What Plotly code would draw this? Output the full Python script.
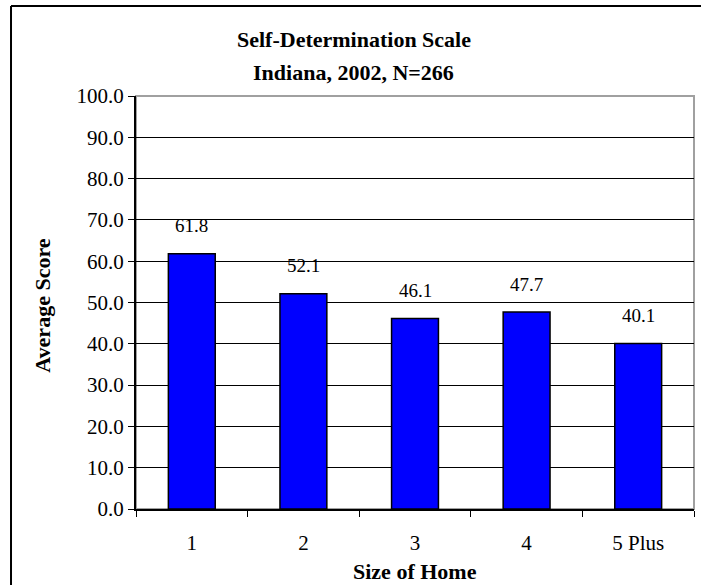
import plotly.graph_objects as go

# Average self-determination score by size of home
home_sizes = ["1", "2", "3", "4", "5 Plus"]
avg_scores = [61.8, 52.1, 46.1, 47.7, 40.1]

y_ticks = [0, 10, 20, 30, 40, 50, 60, 70, 80, 90, 100]
title_lines = ["Self-Determination Scale", "Indiana, 2002, N=266"]
x_title = "Size of Home"
y_title = "Average Score"

SERIF = "Liberation Serif, Times New Roman, serif"

fig = go.Figure()
fig.add_trace(go.Bar(
    x=home_sizes,
    y=avg_scores,
    marker=dict(color="#0000FF", line=dict(color="#000000", width=1.5)),
    hoverinfo="x+y",
))

annotations = []
# value labels above each bar (category index used as x position)
for idx, val in enumerate(avg_scores):
    annotations.append(dict(
        x=idx, y=val, xref="x", yref="y", text=f"{val:.1f}",
        showarrow=False, yshift=28, yanchor="middle",
        font=dict(family=SERIF, size=19, color="#000000"),
    ))

# two-line chart title
for line, ypos in zip(title_lines, [1.1356, 1.058]):
    annotations.append(dict(
        x=0.39, y=ypos, xref="paper", yref="paper", text=line,
        showarrow=False, xanchor="center", yanchor="middle",
        font=dict(family=SERIF, size=22, color="#000000", weight="bold"),
    ))
# axis titles
annotations.append(dict(
    x=0.5, y=-0.152, xref="paper", yref="paper", text=x_title,
    showarrow=False, xanchor="center", yanchor="middle",
    font=dict(family=SERIF, size=22, color="#000000", weight="bold"),
))
annotations.append(dict(
    x=-0.168, y=0.493, xref="paper", yref="paper", text=y_title,
    showarrow=False, xanchor="center", yanchor="middle", textangle=-90,
    font=dict(family=SERIF, size=22, color="#000000", weight="bold"),
))

fig.update_layout(
    width=701,
    height=585,
    margin=dict(l=136, r=7, t=96, b=76),
    paper_bgcolor="#FFFFFF",
    plot_bgcolor="#FFFFFF",
    showlegend=False,
    bargap=0.58,
    annotations=annotations,
    shapes=[
        # plot area frame
        dict(type="rect", xref="paper", yref="paper", x0=0, y0=0, x1=1, y1=1,
             line=dict(color="#A0A0A0", width=2), layer="below"),
        # chart area frame (top and left edges)
        dict(type="line", xref="paper", yref="paper",
             x0=-0.224, x1=1.02, y0=1.218, y1=1.218,
             line=dict(color="#000000", width=2)),
        dict(type="line", xref="paper", yref="paper",
             x0=-0.224, x1=-0.224, y0=-0.2, y1=1.218,
             line=dict(color="#000000", width=2)),
    ],
)

fig.update_xaxes(
    type="category",
    tickson="boundaries",
    ticks="outside",
    ticklen=6,
    tickcolor="#000000",
    tickwidth=1,
    ticklabelstandoff=14,
    showline=True,
    linecolor="#000000",
    linewidth=2,
    showgrid=False,
    tickfont=dict(family=SERIF, size=21, color="#000000"),
)

fig.update_yaxes(
    range=[0, 100],
    tickvals=y_ticks,
    ticktext=[f"{v:.1f}" for v in y_ticks],
    ticks="outside",
    ticklen=6,
    tickcolor="#000000",
    tickwidth=1,
    showline=True,
    linecolor="#000000",
    linewidth=2,
    showgrid=True,
    gridcolor="#000000",
    gridwidth=1,
    zeroline=False,
    tickfont=dict(family=SERIF, size=21, color="#000000"),
)

fig.write_html("out.html")
